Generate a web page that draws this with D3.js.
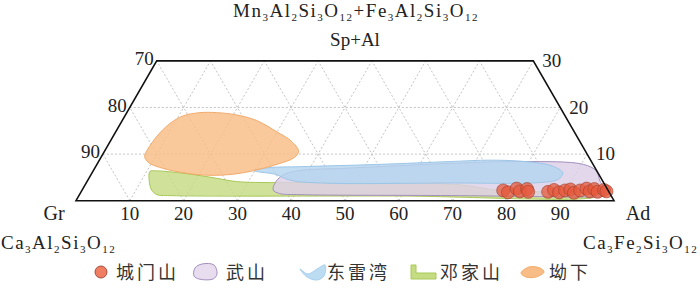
<!DOCTYPE html>
<html>
<head>
<meta charset="utf-8">
<script src="https://cdn.jsdelivr.net/npm/d3@7"></script>
<style>
body { margin:0; background:#fff; }
</style>
</head>
<body>
<script>
// valeurs en % : Ad (bas) et Sp+Al (hauteur)
let ticksAd = [10, 20, 30, 40, 50, 60, 70, 80, 90];
let ticksGr = [90, 80, 70];
let ticksSp = [10, 20, 30];

let legendNames = ["城门山", "武山", "东雷湾", "邓家山", "坳下"];

// 城门山 points
let cmsAd = [78.3, 79.4, 80.6, 81.5, 82.6, 83.1, 86.8, 87.7, 88.9, 89.8, 90.7, 91.7, 92.6, 93.6, 94.5, 95.1, 96.0, 97.0, 97.6];
let cmsSp = [2.2, 1.8, 2.6, 2.0, 2.5, 1.9, 1.9, 2.3, 1.8, 2.2, 2.4, 1.7, 2.2, 2.6, 2.0, 2.5, 1.9, 2.3, 2.0];

// 武山 field
let wsAd = [35.5, 35.1, 35.6, 37.9, 47.4, 65.5, 78.9, 90.4, 93.5, 95.3, 97.7, 97.3, 95.1, 69.0, 41.0, 37.0];
let wsSp = [2.3, 3.7, 5.4, 6.4, 7.0, 8.0, 8.4, 7.8, 6.4, 4.2, 1.65, 0.9, 0.8, 1.1, 1.3, 1.55];

// 东雷湾 field
let dlwAd = [29.8, 32.5, 38.0, 52.6, 65.3, 72.6, 79.3, 84.8, 87.5, 87.3, 84.3, 67.6, 43.5, 37.6, 34.1, 30.8];
let dlwSp = [6.5, 7.1, 7.3, 7.8, 8.4, 8.7, 8.4, 7.45, 5.95, 4.55, 3.9, 3.8, 3.8, 4.4, 5.7, 6.2];

// 邓家山 field
let djsAd = [10.6, 11.4, 12.9, 14.4, 16.9, 59.7, 96.1, 96.3, 89.1, 77.7, 69.7, 58.3, 39.7, 32.8, 27.8, 23.8, 19.7, 14.4, 11.7];
let djsSp = [6.3, 4.4, 2.3, 1.3, 1.1, 1.0, 0.8, 1.4, 1.8, 2.2, 3.4, 3.9, 3.9, 3.9, 4.1, 4.8, 5.5, 6.2, 6.4];

// 坳下 field
let axAd = [7.9, 8.1, 9.2, 10.8, 13.6, 16.7, 20.7, 25.0, 29.9, 33.3, 35.8, 36.2, 35.8, 33.9, 31.3, 28.1, 24.6, 20.9, 16.9, 12.7, 9.7, 8.3];
let axSp = [9.8, 13.7, 16.6, 18.2, 18.9, 18.9, 18.4, 17.2, 14.8, 13.0, 11.0, 10.2, 9.1, 8.0, 6.95, 6.0, 5.5, 5.5, 6.0, 6.95, 8.0, 9.1];

let width = 700, height = 305;
let h3 = Math.sqrt(3) / 2;
let serif = "'Liberation Serif', 'DejaVu Serif', serif";

let svg = d3.select("body").append("svg")
    .attr("width", width)
    .attr("height", height)
    .attr("font-family", serif);

let x = d3.scaleLinear().domain([0, 100]).range([76, 614]);
let y = d3.scaleLinear().domain([0, 100 * h3]).range([200.7, 200.7 - 538 * h3]);

// ternaire -> ecran
function px(ad, sp) { return x(ad + sp / 2); }
function py(ad, sp) { return y(sp * h3); }

function pts(a, s) {
    return a.map(function(d, i) { return [px(d, s[i]), py(d, s[i])]; });
}

// grille pointillee
let grid = svg.append("g")
    .attr("stroke", "#c4c4c4")
    .attr("stroke-width", 1)
    .attr("stroke-dasharray", "2,2")
    .attr("fill", "none");

ticksSp.slice(0, 2).forEach(function(s) {
    grid.append("line")
        .attr("x1", px(0, s)).attr("y1", py(0, s))
        .attr("x2", px(100 - s, s)).attr("y2", py(100 - s, s));
});
for (let k = 10; k < 100; k += 10) {
    // Ad constant
    let top = Math.min(30, 100 - k);
    grid.append("line")
        .attr("x1", px(k, 0)).attr("y1", py(k, 0))
        .attr("x2", px(k, top)).attr("y2", py(k, top));
    // Gr constant
    let g = 100 - k;
    let topG = Math.min(30, 100 - g);
    grid.append("line")
        .attr("x1", px(k, 0)).attr("y1", py(k, 0))
        .attr("x2", px(100 - g - topG, topG)).attr("y2", py(100 - g - topG, topG));
}

// champs
let area = d3.line().curve(d3.curveCatmullRomClosed.alpha(0.5));

let fields = [
    {ad: djsAd, sp: djsSp, fill: "#c6dc82", stroke: "#a9c85a"},
    {ad: wsAd, sp: wsSp, fill: "#ddd0e6", stroke: "#a58fbf"},
    {ad: dlwAd, sp: dlwSp, fill: "#b5d6ef", stroke: "#9cc6e8"},
    {ad: axAd, sp: axSp, fill: "#f8bd86", stroke: "#f3aa6a"}
];

svg.selectAll(".field")
    .data(fields)
    .enter()
    .append("path")
    .attr("class", "field")
    .attr("d", function(d) { return area(pts(d.ad, d.sp)); })
    .attr("fill", function(d) { return d.fill; })
    .attr("fill-opacity", 0.82)
    .attr("stroke", function(d) { return d.stroke; })
    .attr("stroke-width", 1);

// points 城门山
svg.selectAll(".cms")
    .data(cmsAd)
    .enter()
    .append("circle")
    .attr("class", "cms")
    .attr("cx", function(d, i) { return px(d, cmsSp[i]); })
    .attr("cy", function(d, i) { return py(d, cmsSp[i]); })
    .attr("r", 6.5)
    .attr("fill", "#e65a3c")
    .attr("fill-opacity", 0.75)
    .attr("stroke", "#9a3e2c")
    .attr("stroke-width", 0.6);

// cadre
let frame = [[0, 0], [100, 0], [70, 30], [0, 30]];
svg.append("path")
    .attr("d", d3.line()(frame.map(function(d) { return [px(d[0], d[1]), py(d[0], d[1])]; })) + "Z")
    .attr("fill", "none")
    .attr("stroke", "#111")
    .attr("stroke-width", 1.6);

// graduations
svg.selectAll(".tb")
    .data(ticksAd)
    .enter()
    .append("text")
    .attr("class", "tb")
    .attr("x", function(d) { return px(d, 0); })
    .attr("y", 220)
    .attr("text-anchor", "middle")
    .attr("fill", "#222")
    .style("font-size", "19px")
    .text(function(d) { return d; });

svg.selectAll(".tl")
    .data(ticksGr)
    .enter()
    .append("text")
    .attr("class", "tl")
    .attr("x", function(d) { return px(0, 100 - d) - 3; })
    .attr("y", function(d) { return py(0, 100 - d) + 4; })
    .attr("text-anchor", "end")
    .attr("fill", "#222")
    .style("font-size", "19px")
    .text(function(d) { return d; });

svg.selectAll(".tr")
    .data(ticksSp)
    .enter()
    .append("text")
    .attr("class", "tr")
    .attr("x", function(d) { return px(100 - d, d) + 9; })
    .attr("y", function(d) { return py(100 - d, d) + 6; })
    .attr("text-anchor", "start")
    .attr("fill", "#222")
    .style("font-size", "19px")
    .text(function(d) { return d; });

// formules avec indices
function formula(str, xx, yy, anchor) {
    let t = svg.append("text")
        .attr("x", xx).attr("y", yy)
        .attr("text-anchor", anchor)
        .attr("fill", "#222")
        .style("font-size", "19px")
        .style("letter-spacing", "1.5px");
    let low = false;
    str.match(/[^0-9]+|[0-9]+/g).forEach(function(p) {
        let sub = /[0-9]/.test(p);
        let dy = sub === low ? 0 : (sub ? 4 : -4);
        low = sub;
        t.append("tspan")
            .attr("dy", dy)
            .style("font-size", sub ? "11px" : null)
            .text(p);
    });
}

formula("Mn3Al2Si3O12+Fe3Al2Si3O12", 356, 17, "middle");
formula("Ca3Al2Si3O12", 1, 249, "start");
formula("Ca3Fe2Si3O12", 583, 249, "start");

svg.append("text").attr("x", 355).attr("y", 46).attr("text-anchor", "middle")
    .attr("fill", "#222").style("font-size", "19px").text("Sp+Al");
svg.append("text").attr("x", 54).attr("y", 220).attr("text-anchor", "middle")
    .attr("fill", "#222").style("font-size", "20px").text("Gr");
svg.append("text").attr("x", 638).attr("y", 220).attr("text-anchor", "middle")
    .attr("fill", "#222").style("font-size", "20px").text("Ad");

// legende
let lg = svg.append("g").attr("transform", "translate(0,272)");
let legX = [101, 205, 313, 423, 532];
let textX = [116, 226, 327, 440, 549];

lg.append("circle").attr("cx", legX[0]).attr("cy", 0).attr("r", 6)
    .attr("fill", "#ef7e62").attr("stroke", "#8e3526").attr("stroke-width", 0.8);

let icon = d3.line().curve(d3.curveCatmullRomClosed.alpha(0.5));
lg.append("path")
    .attr("d", icon([[-11, 4], [-10, -4], [-3, -8], [9, -7], [12, 2], [8, 7], [-6, 7]].map(function(d) { return [d[0] + legX[1], d[1]]; })))
    .attr("fill", "#e8ddef").attr("stroke", "#a58fbf").attr("stroke-width", 1);
lg.append("path")
    .attr("d", icon([[-13, -3], [-5, 2], [4, -3], [12, -7], [11, 4], [4, 8], [-6, 5]].map(function(d) { return [d[0] + legX[2], d[1]]; })))
    .attr("fill", "#bcdcf2").attr("stroke", "#a9d0ee").attr("stroke-width", 1);
lg.append("path")
    .attr("d", d3.line()([[-12, -7], [-7, -7], [-7, 1], [13, 1], [13, 7], [-12, 7]].map(function(d) { return [d[0] + legX[3], d[1]]; })) + "Z")
    .attr("fill", "#c6dc82").attr("stroke", "#a9c85a").attr("stroke-width", 1);
lg.append("path")
    .attr("d", icon([[-11, 1], [-3, -5], [8, -4], [12, 0], [4, 5], [-6, 5]].map(function(d) { return [d[0] + legX[4], d[1]]; })))
    .attr("fill", "#f8bd86").attr("stroke", "#f3aa6a").attr("stroke-width", 1);

lg.selectAll(".lt")
    .data(legendNames)
    .enter()
    .append("text")
    .attr("class", "lt")
    .attr("x", function(d, i) { return textX[i]; })
    .attr("y", 7)
    .attr("fill", "#333")
    .style("font-family", "'Noto Sans CJK SC', sans-serif")
    .style("font-size", "18px")
    .style("letter-spacing", "3px")
    .text(function(d) { return d; });
</script>
</body>
</html>
